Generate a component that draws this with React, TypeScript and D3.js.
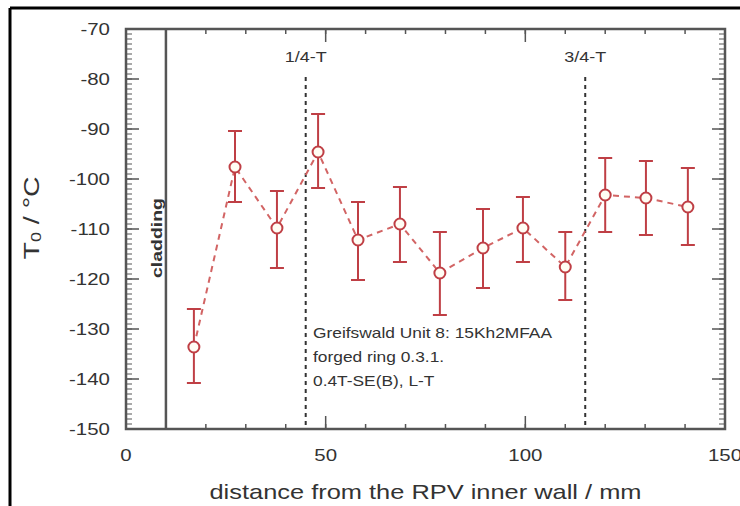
import React from "react";
import * as d3 from "d3";

const distance = [17, 27.3, 37.8, 48.1, 58.1, 68.6, 78.6, 89.4, 99.4, 110, 120, 130.2, 140.7];
const t0 = [-133.6, -97.6, -109.8, -94.6, -112.2, -109, -118.8, -113.8, -109.8, -117.6, -103.2, -103.8, -105.6];
const t0Upper = [-126, -90.4, -102.4, -87, -104.6, -101.6, -110.6, -106, -103.6, -110.6, -95.8, -96.4, -97.8];
const t0Lower = [-140.8, -104.6, -117.8, -101.8, -120.2, -116.6, -127.2, -121.8, -116.6, -124.2, -110.6, -111.2, -113.2];

const markers = [
  { label: "1/4-T", x: 45 },
  { label: "3/4-T", x: 115 },
];
const claddingX = 10;
const claddingLabel = "cladding";
const noteLines = ["Greifswald Unit 8: 15Kh2MFAA", "forged ring 0.3.1.", "0.4T-SE(B), L-T"];
const xTitle = "distance from the RPV inner wall / mm";

const W = 740, H = 506;
const M = { left: 126, right: 725, top: 29, bottom: 429 };
const SX = 1.24;
const FONT = "'Liberation Sans', Arial, sans-serif";
const TXT = "#333";
const AX = "#555";
const RED = "#bf3f45";

function SText({ x, y, size, anchor = "start", children, weight = "normal" }: any) {
  return (
    <g transform={`translate(${x},${y}) scale(${SX},1)`}>
      <text x={0} y={0} fontSize={size} textAnchor={anchor} dominantBaseline="central" fontFamily={FONT} fill={TXT} fontWeight={weight}>
        {children}
      </text>
    </g>
  );
}

export default function App() {
  const x = d3.scaleLinear().domain([0, 150]).range([M.left, M.right]);
  const y = d3.scaleLinear().domain([-150, -70]).range([M.bottom, M.top]);

  const xMajor = x.ticks(3);
  const xMinor = x.ticks(15);
  const yMajor = y.ticks(8);
  const yMinor = y.ticks(80);

  const pts = distance.map((d, i) => ({ d, v: t0[i], hi: t0Upper[i], lo: t0Lower[i] }));
  const line = d3.line<any>().x((p) => x(p.d)).y((p) => y(p.v));

  return (
    <svg width={W} height={H} style={{ position: "absolute", left: 0, top: 0, background: "#fff" }}>
      {/* outer frame of the cropped figure */}
      <line x1={10} y1={8} x2={W} y2={8} stroke="#000" strokeWidth={3} />
      <line x1={10} y1={8} x2={10} y2={H} stroke="#000" strokeWidth={3} />

      {/* minor ticks y (ruler) */}
      {yMinor.map((t) => (
        <g key={"ym" + t}>
          <line x1={M.left} x2={M.left + 6} y1={y(t)} y2={y(t)} stroke={AX} strokeWidth={1} />
          <line x1={M.right} x2={M.right - 6} y1={y(t)} y2={y(t)} stroke={AX} strokeWidth={1} />
        </g>
      ))}
      {yMajor.map((t) => (
        <g key={"yM" + t}>
          <line x1={M.left} x2={M.left + 13} y1={y(t)} y2={y(t)} stroke={AX} strokeWidth={1.5} />
          <line x1={M.right} x2={M.right - 13} y1={y(t)} y2={y(t)} stroke={AX} strokeWidth={1.5} />
          <SText x={110} y={y(t)} size={16.5} anchor="end">{t}</SText>
        </g>
      ))}
      {xMinor.map((t) => (
        <g key={"xm" + t}>
          <line x1={x(t)} x2={x(t)} y1={M.bottom} y2={M.bottom - 5} stroke={AX} strokeWidth={1.5} />
          <line x1={x(t)} x2={x(t)} y1={M.top} y2={M.top + 5} stroke={AX} strokeWidth={1.5} />
        </g>
      ))}
      {xMajor.map((t) => (
        <g key={"xM" + t}>
          <line x1={x(t)} x2={x(t)} y1={M.bottom} y2={M.bottom - 13} stroke={AX} strokeWidth={1.5} />
          <line x1={x(t)} x2={x(t)} y1={M.top} y2={M.top + 13} stroke={AX} strokeWidth={1.5} />
          <SText x={x(t)} y={455} size={16.5} anchor="middle">{t}</SText>
        </g>
      ))}

      {/* plot frame */}
      <rect x={M.left} y={M.top} width={M.right - M.left} height={M.bottom - M.top} fill="none" stroke={AX} strokeWidth={2.5} />

      {/* cladding */}
      <line x1={x(claddingX)} x2={x(claddingX)} y1={M.top} y2={M.bottom} stroke={AX} strokeWidth={2.5} />
      <text
        transform={`translate(${x(claddingX) - 9},238) rotate(-90)`}
        textAnchor="middle"
        dominantBaseline="central"
        fontSize={14}
        fontWeight="bold"
        fontFamily={FONT}
        fill={TXT}
        textLength={80}
        lengthAdjust="spacingAndGlyphs"
      >
        {claddingLabel}
      </text>

      {/* 1/4-T and 3/4-T */}
      {markers.map((m) => (
        <g key={m.label}>
          <line x1={x(m.x)} x2={x(m.x)} y1={77} y2={M.bottom} stroke={TXT} strokeWidth={2} strokeDasharray="4,4" />
          <SText x={x(m.x)} y={57} size={14.5} anchor="middle">{m.label}</SText>
        </g>
      ))}

      {/* note */}
      {noteLines.map((l, i) => (
        <SText key={l} x={313} y={333 + i * 24} size={14}>{l}</SText>
      ))}

      {/* data */}
      <path d={line(pts) || ""} fill="none" stroke="#d26464" strokeWidth={2} strokeDasharray="6,5" />
      {pts.map((p, i) => (
        <g key={"e" + i} stroke={RED} strokeWidth={2}>
          <line x1={x(p.d)} x2={x(p.d)} y1={y(p.hi)} y2={y(p.lo)} />
          <line x1={x(p.d) - 7} x2={x(p.d) + 7} y1={y(p.hi)} y2={y(p.hi)} />
          <line x1={x(p.d) - 7} x2={x(p.d) + 7} y1={y(p.lo)} y2={y(p.lo)} />
        </g>
      ))}
      {pts.map((p, i) => (
        <circle key={"c" + i} cx={x(p.d)} cy={y(p.v)} r={5.5} fill="#fffdf4" stroke={RED} strokeWidth={2} />
      ))}

      {/* axis titles */}
      <SText x={(M.left + M.right) / 2} y={492} size={20.5} anchor="middle">{xTitle}</SText>
      <text
        transform={`translate(31,218) rotate(-90)`}
        textAnchor="middle"
        dominantBaseline="central"
        fontSize={22}
        fontFamily={FONT}
        fill={TXT}
        textLength={83}
        lengthAdjust="spacingAndGlyphs"
      >
        T<tspan fontSize={14} dy={5}>0</tspan><tspan dy={-5}> / °C</tspan>
      </text>
    </svg>
  );
}
